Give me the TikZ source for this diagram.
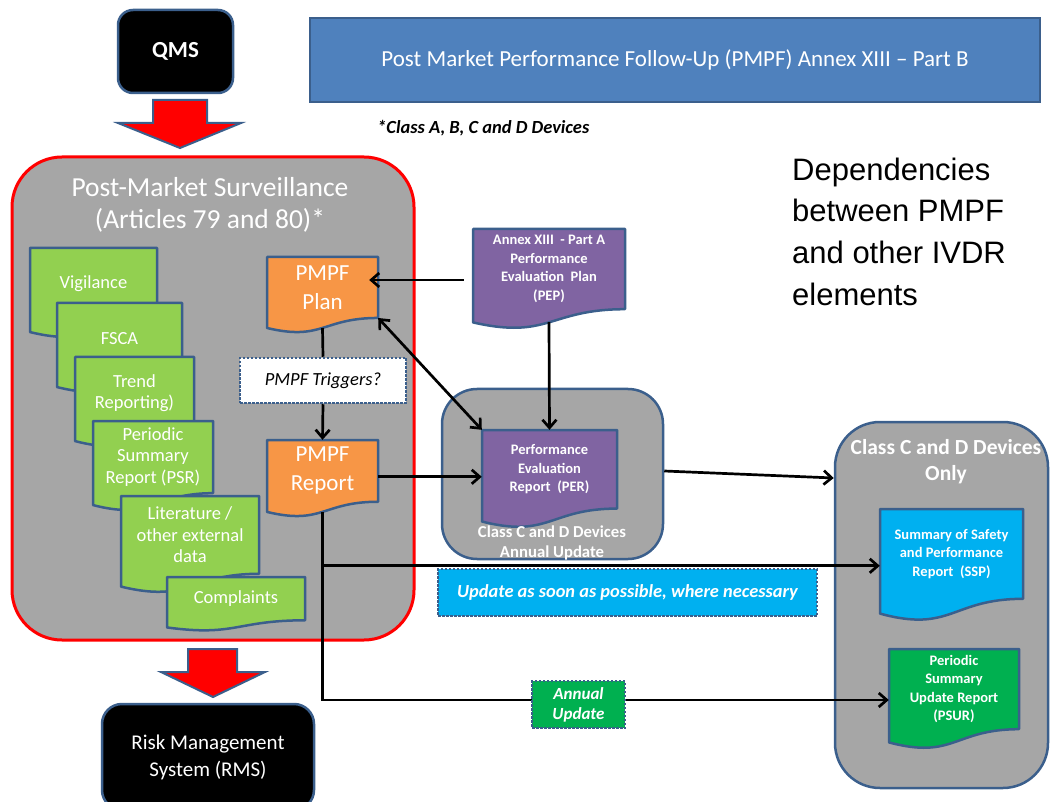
\documentclass[tikz,border=0pt]{standalone}
\usepackage{fontspec}
\setmainfont{Carlito}
\newfontfamily\arialfont{Liberation Sans}
\usetikzlibrary{
    arrows.meta,
    calc,
    positioning,
}
\definecolor{MyGray}{HTML}{A6A6A6}
\definecolor{MyEdge}{HTML}{3B5F8C}
\definecolor{MyTitle}{HTML}{4F81BD}
\definecolor{MyLime}{HTML}{92D050}
\definecolor{MyOrange}{HTML}{F79646}
\definecolor{MyPurple}{HTML}{8064A2}
\definecolor{MyCyan}{HTML}{00B0F0}
\definecolor{MyGreen}{HTML}{00B050}
\tikzset{
    >={Straight Barb[length=8pt,width=14pt]}
}
% document shape: name, fill, x1, y1, x2, y2, text style, text
\newcommand\docnode[8]{%
    \path[doc,fill=#2] (#3,#4) -- (#5,#4) -- (#5,{#4+0.802*(#6-#4)})
        .. controls ({(#3+#5)/2},{#4+0.802*(#6-#4)}) and ({(#3+#5)/2},{#4+1.108*(#6-#4)}) .. (#3,{#4+0.934*(#6-#4)}) -- cycle;
    \node[#7,minimum width={(#5-#3)*1pt},minimum height={0.8*(#6-#4)*1pt}] (#1) at ({(#3+#5)/2},{#4+0.4*(#6-#4)}) {#8};
}

\begin{document}
\begin{tikzpicture}[
    x=1pt,y=-1pt,
    doc/.style={draw=MyEdge,line width=2.5pt,line join=round},
    doctext/.style={text=white,align=center,inner sep=0pt,font=\fontsize{18.5}{21.5}\selectfont},
    boldtext/.style={text=white,align=center,inner sep=0pt,font=\fontsize{14.5}{18.5}\selectfont\bfseries},
    bigtext/.style={text=white,align=center,inner sep=0pt,font=\fontsize{23}{29}\selectfont},
    box/.style={draw=MyEdge,line width=2.5pt,inner sep=0pt},
    dotbox/.style={draw=MyEdge,line width=2.5pt,dash pattern=on 2.5pt off 1.5pt,inner sep=0pt,align=center},
    redarrow/.style={fill=red,draw=MyEdge,line width=2pt,line join=miter},
    arr/.style={->,line width=2.7pt},
    arr2/.style={<->,line width=2.7pt},
    link/.style={line width=2.7pt}
    ]
    \useasboundingbox (0,0) rectangle (1050,802);

    % top
    \node[box,fill=black,rounded corners=15pt,minimum width=115pt,minimum height=83pt,text=white,font=\fontsize{23}{27}\selectfont\bfseries] (qms) at (175.5,51.5) {QMS};
    \path[redarrow] (153,100) -- (207,100) -- (207,123) -- (241,123) -- (180,148) -- (118,123) -- (153,123) -- cycle;
    \node[box,fill=MyTitle,minimum width=730pt,minimum height=84pt,text=white,font=\fontsize{23}{27}\selectfont] (title) at (675,60) {Post Market Performance Follow-Up (PMPF) Annex XIII -- Part B};
    \node[anchor=base west,inner sep=0pt,font=\fontsize{18.5}{22}\selectfont\bfseries\itshape] (classes) at (377,134) {*Class A, B, C and D Devices};
    \node[anchor=base west,inner sep=0pt,align=left,font=\fontsize{31}{42}\selectfont\arialfont] (deps) at (792,306) {Dependencies\\between PMPF\\and other IVDR\\elements};

    % post-market surveillance
    \node[draw=red,line width=3pt,fill=MyGray,rounded corners=50pt,minimum width=402pt,minimum height=483pt] (pms) at (213,398.5) {};
    \node[text=white,align=center,font=\fontsize{27.5}{32}\selectfont] (pmstitle) at (210,205) {Post-Market Surveillance\\(Articles 79 and 80)*};

    \docnode{vig}{MyLime}{30}{248}{157}{338}{doctext}{Vigilance}
    \docnode{fsca}{MyLime}{57}{303}{182}{393}{doctext}{FSCA}
    \docnode{trend}{MyLime}{75}{357}{194}{447}{doctext}{Trend\\Reporting)}
    \docnode{psr}{MyLime}{93}{421}{213}{511}{doctext}{Periodic\\Summary\\Report (PSR)}
    \docnode{lit}{MyLime}{121}{496}{259}{593}{doctext}{Literature /\\other external\\data}
    \docnode{compl}{MyLime}{167}{577}{305}{631}{doctext}{Complaints}

    \docnode{plan}{MyOrange}{267}{257}{378}{333}{bigtext}{PMPF\\Plan}
    \docnode{report}{MyOrange}{267}{440}{378}{517}{bigtext}{PMPF\\Report}
    \node[dotbox,fill=white,minimum width=166pt,minimum height=45pt,font=\fontsize{18.5}{20}\selectfont\itshape] (trig) at (323,380.5) {PMPF Triggers?};

    % performance evaluation
    \docnode{pep}{MyPurple}{473}{229}{625}{329}{boldtext}{Annex XIII\ \ - Part A\\Performance\\Evaluation\ \ Plan\\(PEP)}
    \node[box,fill=MyGray,rounded corners=35pt,minimum width=221pt,minimum height=170pt] (perbox) at (552.5,474) {};
    \docnode{per}{MyPurple}{482}{430}{617}{528}{boldtext}{Performance\\Evaluation\\Report\ \ (PER)}
    \node[text=white,align=center,inner sep=0pt,font=\fontsize{16.7}{20}\selectfont\bfseries] (perlabel) at (552,543) {Class C and D Devices\\Annual Update};

    % class C and D
    \node[box,fill=MyGray,rounded corners=45pt,minimum width=213pt,minimum height=366pt] (cdbox) at (941.5,605) {};
    \node[text=white,align=center,inner sep=0pt,font=\fontsize{21.5}{26}\selectfont\bfseries] (cdlabel) at (946,462) {Class C and D Devices\\Only};
    \docnode{ssp}{MyCyan}{880}{509}{1023}{621}{boldtext}{Summary of Safety\\and Performance\\Report\ \ (SSP)}
    \docnode{psur}{MyGreen}{889}{649}{1019}{749}{boldtext}{Periodic\\Summary\\Update Report\\(PSUR)}
    \node[text=gray!70,font=\fontsize{14}{16}\selectfont] (page) at (1012,777) {1};

    % connectors
    \draw[arr] ([shift={(-9,11)}]pep.west) -- ([shift={(-9,11)}]pep.west -| plan.east);
    \draw[arr] ([yshift=-13pt]pep.south) -- (per.north);
    \draw[arr2] (plan.south east) -- (per.north west);
    \draw[link] ([yshift=-10pt]plan.south) -- (trig.north);
    \draw[arr] (trig.south) -- (report.north);
    \draw[arr] ([yshift=-6pt]report.east) -- ([yshift=-6pt]report.east -| per.west);
    \draw[arr] ([yshift=3pt]perbox.east) -- (cdbox.west |- 0,478);
    \draw[arr] ([yshift=-10pt]report.south) |- ([yshift=-11pt]psur.west);
    \draw[arr] ([yshift=-12pt]ssp.west -| report.south) -- ([yshift=-12pt]ssp.west);
    \node[dotbox,fill=MyCyan,minimum width=379pt,minimum height=47pt,text=white,font=\fontsize{18.4}{20}\selectfont\bfseries\itshape] (asap) at (627.5,592.5) {Update\ as\ soon\ as\ possible,\ where\ necessary};
    \node[dotbox,fill=MyGreen,minimum width=93pt,minimum height=47pt,text=white,font=\fontsize{17}{20}\selectfont\bfseries\itshape] (annual) at (578.5,704.5) {Annual\\Update};

    % bottom
    \path[redarrow] (188,649) -- (237,649) -- (237,672) -- (265,672) -- (213,697) -- (161,672) -- (188,672) -- cycle;
    \node[box,fill=black,rounded corners=20pt,minimum width=212pt,minimum height=106pt,text=white,align=center,font=\fontsize{21}{27}\selectfont] (rms) at (208,757) {Risk Management\\System (RMS)};
\end{tikzpicture}
\end{document}
